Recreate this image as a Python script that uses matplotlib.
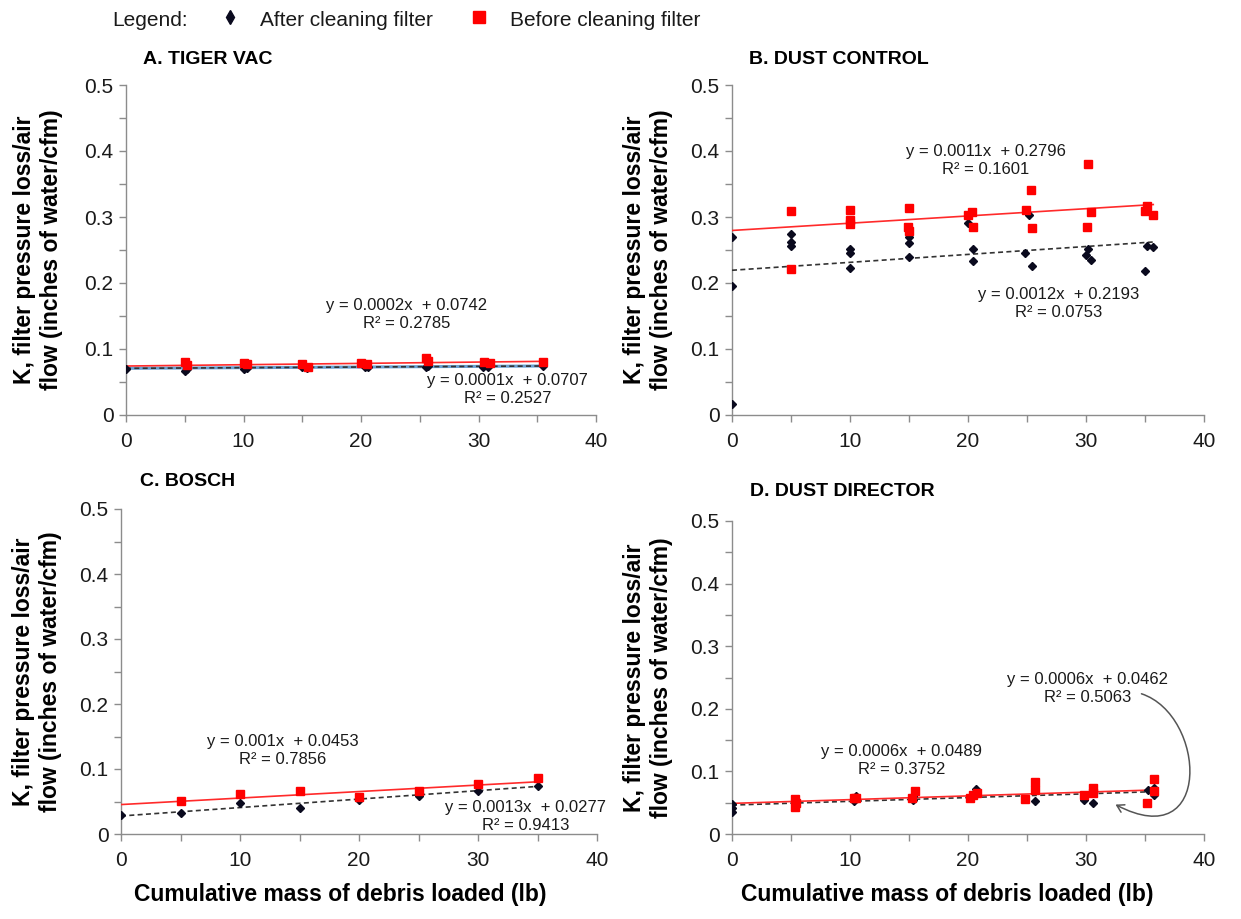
import numpy as np
import matplotlib
matplotlib.use("Agg")
import matplotlib.pyplot as plt
from matplotlib.lines import Line2D
from matplotlib.patches import FancyArrowPatch
from matplotlib.path import Path

plt.rcParams["font.family"] = ["Liberation Sans", "DejaVu Sans"]

# ---------------- data ----------------
titles = ["A. TIGER VAC", "B. DUST CONTROL", "C. BOSCH", "D. DUST DIRECTOR"]

# A. Tiger Vac
a_after_x = [0, 5, 5.2, 10, 10.3, 15, 15.4, 20.3, 20.6, 25.5, 25.7, 30.4, 30.8, 35.5]
a_after_y = [0.069, 0.067, 0.070, 0.069, 0.071, 0.072, 0.071, 0.072, 0.073, 0.073, 0.074, 0.072, 0.073, 0.074]
a_before_x = [5, 5.2, 10, 10.3, 15, 15.5, 20, 20.5, 25.5, 25.7, 30.5, 31, 35.5]
a_before_y = [0.081, 0.076, 0.079, 0.077, 0.077, 0.072, 0.079, 0.078, 0.086, 0.082, 0.080, 0.079, 0.081]

# B. Dust Control
b_after_x = [0, 0, 0, 5, 5, 5, 10, 10, 10, 15, 15, 15, 20, 20.4, 20.4,
             24.8, 25.2, 25.4, 30.0, 30.2, 30.4, 35.0, 35.2, 35.7]
b_after_y = [0.270, 0.196, 0.017, 0.275, 0.262, 0.256, 0.252, 0.246, 0.223,
             0.269, 0.260, 0.239, 0.291, 0.251, 0.234, 0.245, 0.303, 0.226,
             0.243, 0.252, 0.235, 0.218, 0.256, 0.255]
b_before_x = [5, 5, 10, 10, 10, 15, 14.9, 15, 20, 20.3, 20.4, 24.9, 25.3, 25.4,
              30.2, 30.1, 30.4, 35.0, 35.2, 35.7]
b_before_y = [0.309, 0.221, 0.311, 0.295, 0.290, 0.314, 0.285, 0.279, 0.303,
              0.308, 0.285, 0.311, 0.341, 0.283, 0.380, 0.285, 0.307, 0.309,
              0.316, 0.303]

# C. Bosch
c_after_x = [0, 5, 10, 15, 20, 25, 30, 35]
c_after_y = [0.029, 0.032, 0.047, 0.040, 0.052, 0.059, 0.066, 0.074]
c_before_x = [5, 10, 15, 20, 25, 30, 35]
c_before_y = [0.0505, 0.0615, 0.0656, 0.057, 0.0656, 0.077, 0.0865]

# D. Dust Director
d_after_x = [0, 0, 0, 5.3, 10.5, 10.3, 15.3, 15.3, 20.7, 25.7, 29.8, 30.6, 35.25, 35.8, 35.8]
d_after_y = [0.048, 0.042, 0.035, 0.048, 0.061, 0.053, 0.061, 0.054, 0.0715, 0.053,
             0.054, 0.050, 0.070, 0.074, 0.063]
d_before_x = [5.3, 5.3, 5.4, 10.3, 10.5, 15.25, 15.5, 20.2, 20.4, 20.8, 24.8, 25.7, 25.7,
              29.8, 30.6, 30.6, 35.2, 35.8, 35.8]
d_before_y = [0.056, 0.043, 0.050, 0.057, 0.058, 0.057, 0.069, 0.057, 0.063, 0.065, 0.056,
              0.083, 0.071, 0.063, 0.074, 0.065, 0.050, 0.088, 0.069]

after_x = [a_after_x, b_after_x, c_after_x, d_after_x]
after_y = [a_after_y, b_after_y, c_after_y, d_after_y]
before_x = [a_before_x, b_before_x, c_before_x, d_before_x]
before_y = [a_before_y, b_before_y, c_before_y, d_before_y]

# trendline equations (from chart labels)
before_slope = [0.0002, 0.0011, 0.001, 0.0006]
before_icept = [0.0742, 0.2796, 0.0453, 0.0489]
before_r2 = ["0.2785", "0.1601", "0.7856", "0.3752"]
after_slope = [0.0001, 0.0012, 0.0013, 0.0006]
after_icept = [0.0707, 0.2193, 0.0277, 0.0462]
after_r2 = ["0.2527", "0.0753", "0.9413", "0.5063"]
slope_txt_b = ["0.0002", "0.0011", "0.001", "0.0006"]
slope_txt_a = ["0.0001", "0.0012", "0.0013", "0.0006"]

# ---------------- layout ----------------
W, H = 1241, 919
def rect(l, r, t, b):
    return [l / W, (H - b) / H, (r - l) / W, (b - t) / H]

rects = [rect(126, 596, 85, 415), rect(732, 1204, 85, 415),
         rect(121, 597, 509, 834), rect(732, 1204, 521, 834)]
title_pos = [(143, 60), (749, 60), (140, 482), (750, 492)]
ylabel_off = [-88, -84, -84, -84]
# label positions (data coords) for before / after equations
before_lbl = [(23.9, 0.152), (21.5, 0.386), (13.6, 0.128), (14.4, 0.117)]
after_lbl = [(32.5, 0.039), (27.7, 0.169), (34.0, 0.027), (30.1, 0.232)]

RED = "#FF0000"
DARK = "#0A0A1E"
GRAY = "#8C8C8C"
TXT = "#1a1a1a"

fig = plt.figure(figsize=(W / 100, H / 100), dpi=100)

for i in range(4):
    ax = fig.add_axes(rects[i])
    ax.set_xlim(0, 40)
    ax.set_ylim(0, 0.5)
    ax.set_xticks([0, 10, 20, 30, 40])
    ax.set_xticks([5, 15, 25, 35], minor=True)
    ax.set_yticks([0, 0.1, 0.2, 0.3, 0.4, 0.5])
    ax.set_yticklabels(["0", "0.1", "0.2", "0.3", "0.4", "0.5"])
    ax.set_yticks([0.05, 0.15, 0.25, 0.35, 0.45], minor=True)
    for s in ["top", "right"]:
        ax.spines[s].set_visible(False)
    for s in ["left", "bottom"]:
        ax.spines[s].set_color(GRAY)
        ax.spines[s].set_linewidth(1.0)
    ax.tick_params(which="both", direction="out", color=GRAY, length=5, width=1.0,
                   labelsize=15, labelcolor=TXT, pad=4)
    ax.tick_params(axis="x", which="major", pad=7)
    ax.patch.set_alpha(0)

    # trendlines
    xa = np.array([0, max(after_x[i])])
    xb = np.array([0, max(before_x[i])])
    if i == 0:
        ax.plot(xa, after_slope[i] * xa + after_icept[i], color="#6A9FD0", lw=2.2, zorder=2)
    ax.plot(xa, after_slope[i] * xa + after_icept[i], color="#333333", lw=1.2,
            ls=(0, (3, 2)), zorder=3)
    ax.plot(xb, before_slope[i] * xb + before_icept[i], color="#FF2A2A", lw=1.2, zorder=3)

    ax.plot(after_x[i], after_y[i], ls="none", marker="D", ms=4.5, color=DARK, zorder=4)
    ax.plot(before_x[i], before_y[i], ls="none", marker="s", ms=5.5, color=RED, zorder=5)

    bx, by = before_lbl[i]
    ax.text(bx, by, f"y = {slope_txt_b[i]}x  + {before_icept[i]:.4f}\nR² = {before_r2[i]}",
            ha="center", va="center", fontsize=12, linespacing=1.25, color=TXT)
    axx, ayy = after_lbl[i]
    ax.text(axx, ayy, f"y = {slope_txt_a[i]}x  + {after_icept[i]:.4f}\nR² = {after_r2[i]}",
            ha="center", va="center", fontsize=12, linespacing=1.25, color=TXT)

    tx, ty = title_pos[i]
    fig.text(tx / W, 1 - ty / H, titles[i], fontsize=14, fontweight="bold",
             ha="left", va="center")

    ax.set_ylabel("K, filter pressure loss/air\nflow (inches of water/cfm)", fontsize=16.5,
                  fontweight="bold", linespacing=1.25, va="center")
    axw_px = rects[i][2] * W
    ax.yaxis.set_label_coords(ylabel_off[i] / axw_px, 0.5)
    if i >= 2:
        ax.set_xlabel("Cumulative mass of debris loaded (lb)", fontsize=16.5,
                      fontweight="bold", va="center")
        axh_px = rects[i][3] * H
        ax.xaxis.set_label_coords(0.46 if i == 2 else 0.455, -61 / axh_px)

    if i == 3:
        verts = [(34.7, 0.224), (40.2, 0.19), (40.8, -0.035), (32.5, 0.047)]
        path = Path(verts, [Path.MOVETO, Path.CURVE4, Path.CURVE4, Path.CURVE4])
        arr = FancyArrowPatch(path=path, arrowstyle="->,head_length=5,head_width=3",
                              color="#555555", lw=1.1, clip_on=False)
        ax.add_patch(arr)

# legend at top
LY = 1 - 20 / H
fig.text(112 / W, LY, "Legend:", fontsize=15, ha="left", va="center", color=TXT)
fig.add_artist(Line2D([230 / W], [1 - 17 / H], marker="d", ms=7.5, color=DARK, ls="none",
                      transform=fig.transFigure))
fig.text(260 / W, LY, "After cleaning filter", fontsize=15, ha="left", va="center", color=TXT)
fig.add_artist(Line2D([479 / W], [1 - 17 / H], marker="s", ms=9, color=RED, ls="none",
                      transform=fig.transFigure))
fig.text(510 / W, LY, "Before cleaning filter", fontsize=15, ha="left", va="center", color=TXT)

fig.savefig("out.png", dpi=100)
